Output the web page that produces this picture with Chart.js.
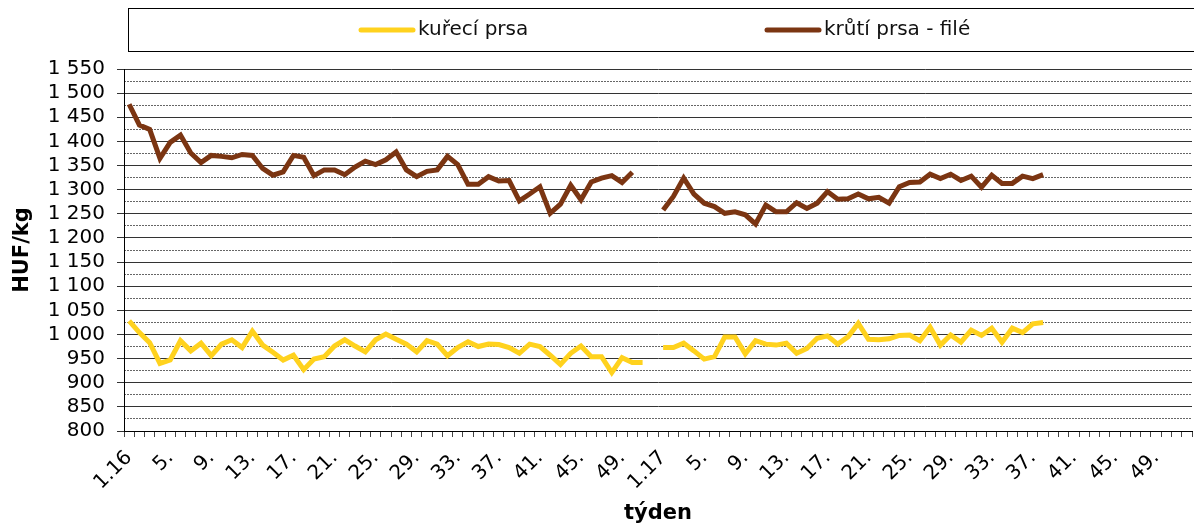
<!DOCTYPE html>
<html>
<head>
<meta charset="utf-8">
<script src="https://cdn.jsdelivr.net/npm/chart.js@4"></script>
<style>
  body { margin: 0; background: #fff; }
</style>
</head>
<body>
<canvas id="myChart" width="1194" height="526"></canvas>
<script>
// týdny 2016 a 2017 (52 + 52)
const weeks2016 = [];
const weeks2017 = [];
for (let w = 1; w <= 52; w++) {
    weeks2016.push(w === 1 ? '1.16' : w + '.');
    weeks2017.push(w === 1 ? '1.17' : w + '.');
}
const labels = weeks2016.concat(weeks2017);

// kuřecí prsa (HUF/kg)
const chicken2016 = [1028, 1004, 983, 940, 947, 987, 966, 982, 956, 980, 989, 973, 1007, 978, 963, 947,
    957, 927, 949, 954, 976, 989, 976, 964, 989, 1001, 990, 980, 964, 987, 980, 956, 973, 985, 975, 980,
    979, 973, 961, 980, 975, 957, 938, 961, 976, 954, 954, 921, 952, 942, 942];
const chicken2017 = [973, 973, 982, 966, 949, 954, 995, 995, 960, 987, 980, 978, 982, 961, 971, 992,
    997, 980, 995, 1023, 990, 989, 991, 998, 999, 987, 1015, 978, 999, 984, 1009, 998, 1013, 984, 1013,
    1004, 1022, 1025];

// krůtí prsa - filé (HUF/kg)
const turkey2016 = [1477, 1434, 1425, 1365, 1398, 1413, 1376, 1356, 1371, 1369, 1366, 1373, 1371, 1344,
    1330, 1337, 1371, 1367, 1329, 1341, 1341, 1331, 1347, 1359, 1352, 1362, 1378, 1341, 1327, 1338, 1341,
    1369, 1352, 1311, 1311, 1327, 1318, 1319, 1277, 1291, 1306, 1251, 1270, 1309, 1279, 1316, 1324, 1329,
    1315, 1336];
const turkey2017 = [1258, 1286, 1324, 1291, 1272, 1265, 1251, 1254, 1248, 1229, 1268, 1254, 1254, 1273,
    1261, 1272, 1296, 1280, 1281, 1291, 1281, 1284, 1272, 1306, 1315, 1316, 1332, 1323, 1332, 1319, 1328,
    1305, 1330, 1313, 1313, 1328, 1323, 1331];

// doplnit chybějící týdny hodnotou null
function pad(arr, n) {
    const out = arr.slice();
    while (out.length < n) out.push(null);
    return out;
}
const chickenData = pad(chicken2016, 52).concat(pad(chicken2017, 52));
const turkeyData = pad(turkey2016, 52).concat(pad(turkey2017, 52));

const FONT = '"DejaVu Sans", Verdana, sans-serif';

// legenda v rámečku nahoře
const boxLegend = {
    id: 'boxLegend',
    afterDraw(chart) {
        const ctx = chart.ctx;
        ctx.save();
        ctx.strokeStyle = '#000';
        ctx.lineWidth = 1;
        ctx.strokeRect(128.5, 8.5, 1080, 43);
        const xs = [361, 767];
        chart.data.datasets.forEach((ds, i) => {
            ctx.strokeStyle = ds.borderColor;
            ctx.lineWidth = 5;
            ctx.lineCap = 'round';
            ctx.beginPath();
            ctx.moveTo(xs[i], 30);
            ctx.lineTo(xs[i] + 52, 30);
            ctx.stroke();
            ctx.fillStyle = '#111';
            ctx.font = '20px ' + FONT;
            ctx.textBaseline = 'middle';
            ctx.fillText(ds.label, xs[i] + 57, 30);
        });
        ctx.restore();
    }
};

const ctx = document.getElementById('myChart').getContext('2d');
new Chart(ctx, {
    type: 'line',
    data: {
        labels: labels,
        datasets: [{
            label: 'kuřecí prsa',
            data: chickenData,
            borderColor: '#FFD21E',
            borderWidth: 5,
            pointRadius: 0,
            tension: 0,
            spanGaps: false
        }, {
            label: 'krůtí prsa - filé',
            data: turkeyData,
            borderColor: '#7B3512',
            borderWidth: 5,
            pointRadius: 0,
            tension: 0,
            spanGaps: false
        }]
    },
    options: {
        responsive: false,
        animation: false,
        layout: { padding: { left: 10, top: 69, right: 2, bottom: 0 } },
        plugins: {
            legend: { display: false },
            tooltip: { enabled: false }
        },
        scales: {
            x: {
                offset: true,
                grid: { offset: true, drawOnChartArea: false, drawTicks: true, tickLength: 6, color: '#444' },
                border: { color: '#000', width: 1 },
                ticks: {
                    autoSkip: false,
                    minRotation: 45,
                    maxRotation: 45,
                    padding: 9,
                    color: '#000',
                    font: { family: FONT, size: 20 },
                    callback: function (value, index) {
                        return index % 4 === 0 ? this.getLabelForValue(value) : '';
                    }
                },
                title: {
                    display: true,
                    text: 'týden',
                    color: '#000',
                    font: { family: FONT, size: 21, weight: 'bold' },
                    padding: 0
                },
                afterFit: (scale) => {
                    scale.height = 95;
                    scale.paddingRight = 0;
                    scale.paddingLeft = 0;
                }
            },
            y: {
                min: 800,
                max: 1550,
                ticks: {
                    stepSize: 50,
                    autoSkip: false,
                    padding: 12,
                    color: '#000',
                    font: { family: FONT, size: 20 },
                    callback: (v) => v >= 1000 ? '1 ' + String(v % 1000).padStart(3, '0') : String(v)
                },
                grid: { color: '#333', tickLength: 7, lineWidth: 1 },
                border: { color: '#000', width: 1 },
                title: {
                    display: true,
                    text: 'HUF/kg',
                    color: '#000',
                    font: { family: FONT, size: 21, weight: 'bold' },
                    padding: 0
                },
                afterFit: (scale) => { scale.width = 114; }
            },
            yMinor: {
                position: 'left',
                min: 800,
                max: 1550,
                display: true,
                ticks: { display: false, stepSize: 25, autoSkip: false },
                grid: {
                    drawTicks: false,
                    color: (c) => c.tick && c.tick.value % 50 === 0 ? 'rgba(0,0,0,0)' : '#666'
                },
                border: { display: false, dash: [2, 1] },
                afterFit: (scale) => { scale.width = 0; }
            }
        }
    },
    plugins: [boxLegend]
});
</script>
</body>
</html>
